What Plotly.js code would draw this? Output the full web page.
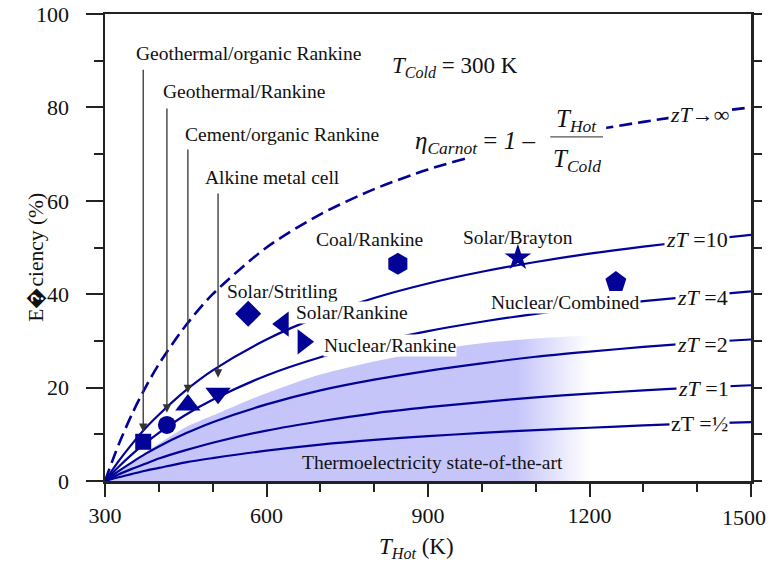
<!DOCTYPE html>
<html>
<head>
<meta charset="utf-8">
<script src="https://cdn.plot.ly/plotly-3.0.1.min.js"></script>
<style>html,body{margin:0;padding:0;background:#fff;}#chart{width:771px;height:566px;}</style>
</head>
<body>
<div id="chart"></div>
<script>
// Hot-side temperature grid (K) at which the curves were read
const tHot = [300,325,350,375,400,450,500,600,700,800,900,1000,1100,1200,1300,1400,1500];
// Efficiency curves (%)
const etaCarnot = [0,7.7,14.3,20,25,33.3,40,50,57.1,62.5,66.7,70,72.7,75,76.9,78.6,80];
const etaZT10  = [0,4.2,7.9,11.3,14.2,19.4,23.7,30.3,35.3,39.2,42.3,44.8,46.9,48.7,50.2,51.5,52.7];
const etaZT4   = [0,3.0,5.7,8.1,10.3,14.2,17.4,22.6,26.5,29.6,32.1,34.1,35.8,37.3,38.5,39.6,40.6];
const etaZT2   = [0,2.1,4.0,5.8,7.4,10.2,12.6,16.4,19.4,21.7,23.6,25.2,26.6,27.7,28.7,29.6,30.3];
const etaZT1   = [0,1.4,2.6,3.7,4.8,6.6,8.2,10.8,12.8,14.5,15.8,16.9,17.9,18.7,19.4,20.0,20.5];
const etaZTHalf= [0,0.8,1.5,2.2,2.8,4.0,4.9,6.5,7.8,8.8,9.6,10.3,10.9,11.4,11.9,12.3,12.6];

// Thermoelectric state-of-the-art band (upper edge)
const bandT   = [300,350,400,450,500,550,600,700,800,900,1000,1100,1200];
const bandTop = [0,4.2,8,11.5,14,16.5,18.8,22.8,25.6,27.8,29.5,30.5,31.2];

// Axis tick labels (the last one is drawn as an annotation so it stays inside the page)
const xTickVals = [300,600,900,1200,1500];
const xTickText = ['300','600','900','1200',''];
const xLastTickLabel = '1500';

// Heat-engine processes
const procNames = ['Geothermal/organic Rankine','Geothermal/Rankine','Cement/organic Rankine','Alkine metal cell',
                   'Solar/Stritling','Solar/Rankine','Nuclear/Rankine','Coal/Rankine','Solar/Brayton','Nuclear/Combined'];
const procT   = [371,415,454,510,566,631,668,844,1067,1249];
const procEta = [8.4,12.0,16.3,18.8,35.8,33.6,29.8,46.5,47.8,42.6];
const procSym = ['square','circle','triangle-up','triangle-down','diamond','triangle-left','triangle-right','hexagon','star','pentagon'];
const procSize= [16,18,22,22,20,22,22,22,20,22];

// Label positions (data coords)
const procLabelX = [567,558,629,612,629,759,829,792,1067,1156];
const procLabelY = [91.6,83.3,74.3,64.9,40.5,36.0,29.1,51.8,52.2,38.3];
const procLabelBg = [false,false,false,false,false,true,true,false,false,true];
// arrows (first four processes)
const arrowTip  = [10.5,14.6,18.8,22.1];
const arrowTail = [88.4,80.1,71.3,61.9];

const curveLabels = ['<i>zT</i>\u2192\u221E','<i>zT</i> =10','<i>zT</i> =4','<i>zT</i> =2','<i>zT</i> =1','zT =\u00BD'];
const curveLabelX = [1405,1400,1409,1409,1411,1405];
const curveLabelY = [78.4,51.8,39.4,29.3,19.9,12.4];

const BLUE = '#020296';
const FONT = 'Liberation Serif, Times New Roman, serif';

const traces = [];
traces.push({
  x: bandT, y: bandTop, mode: 'lines', fill: 'tozeroy', line: {width: 0, shape: 'spline', smoothing: 0.8},
  fillgradient: {type: 'horizontal', start: 300, stop: 1200,
    colorscale: [[0,'rgba(197,197,250,1)'],[0.85,'rgba(197,197,250,1)'],[1,'rgba(197,197,250,0)']]},
  hoverinfo: 'skip', showlegend: false
});
[etaZT10, etaZT4, etaZT2, etaZT1, etaZTHalf].forEach(function (ys) {
  traces.push({x: tHot, y: ys, mode: 'lines', line: {color: BLUE, width: 2.2, shape: 'spline', smoothing: 0.8}, showlegend: false});
});
traces.push({x: tHot, y: etaCarnot, mode: 'lines', line: {color: BLUE, width: 2.6, dash: '13px,6px', shape: 'spline', smoothing: 0.8}, showlegend: false});
traces.push({x: procT, y: procEta, mode: 'markers', marker: {symbol: procSym, size: procSize, color: BLUE, opacity: 1, line: {width: 0}}, showlegend: false});
traces.push({x: [null], y: [null], yaxis: 'y2', mode: 'markers', showlegend: false, hoverinfo: 'skip'});

const ann = [];
procNames.forEach(function (n, i) {
  const a = {x: procLabelX[i], y: procLabelY[i], xref: 'x', yref: 'y', text: n, showarrow: false,
             font: {family: FONT, size: 19.5, color: '#111'}};
  if (procLabelBg[i]) { a.bgcolor = '#fff'; a.borderpad = 0; }
  ann.push(a);
});
arrowTip.forEach(function (tip, i) {
  ann.push({x: procT[i], y: tip, ax: procT[i], ay: arrowTail[i], xref: 'x', yref: 'y', axref: 'x', ayref: 'y',
            text: '', showarrow: true, arrowhead: 2, arrowsize: 1.3, arrowwidth: 1.3, arrowcolor: '#333'});
});
curveLabels.forEach(function (t, i) {
  ann.push({x: curveLabelX[i], y: curveLabelY[i], xref: 'x', yref: 'y', text: t, showarrow: false,
            bgcolor: '#fff', borderpad: 1, font: {family: FONT, size: 22, color: '#111'}});
});
ann.push({x: 909, y: 3.9, xref: 'x', yref: 'y', text: 'Thermoelectricity state-of-the-art', showarrow: false,
          font: {family: FONT, size: 19.5, color: '#111'}});
ann.push({x: 950, y: 88.7, xref: 'x', yref: 'y', text: '<i>T</i><sub><i>Cold</i></sub> = 300 K', showarrow: false,
          font: {family: FONT, size: 23, color: '#111'}});
ann.push({x: 987, y: 72.5, xref: 'x', yref: 'y', text: '<i>\u03B7</i><sub><i>Carnot</i></sub> = <i>1</i> \u2013', showarrow: false,
          font: {family: FONT, size: 25, color: '#111'}});
ann.push({x: 1175, y: 77.1, xref: 'x', yref: 'y', text: '<i>T</i><sub><i>Hot</i></sub>', showarrow: false,
          font: {family: FONT, size: 25, color: '#111'}});
ann.push({x: 1177, y: 68.7, xref: 'x', yref: 'y', text: '<i>T</i><sub><i>Cold</i></sub>', showarrow: false,
          font: {family: FONT, size: 25, color: '#111'}});
// last x tick label
ann.push({x: 0.989, y: -0.079, xref: 'paper', yref: 'paper', xanchor: 'center', yanchor: 'middle',
          text: xLastTickLabel, showarrow: false, font: {family: FONT, size: 22, color: '#111'}});
// axis titles
ann.push({x: -0.107, y: 0.48, xref: 'paper', yref: 'paper', xanchor: 'center', yanchor: 'middle',
          text: 'E\uFFFDciency (%)', textangle: -90, showarrow: false,
          font: {family: FONT, size: 21.5, color: '#111'}});
ann.push({x: 0.482, y: -0.143, xref: 'paper', yref: 'paper', xanchor: 'center', yanchor: 'middle',
          text: '<i>T</i><sub><i>Hot</i></sub> (K)', showarrow: false,
          font: {family: FONT, size: 23, color: '#111'}});

const shapes = [
  {type: 'rect', xref: 'x', yref: 'y', x0: 974, x1: 1231, y0: 65.5, y1: 81.6, fillcolor: '#fff', line: {width: 0}, layer: 'above'},
  {type: 'line', xref: 'x', yref: 'y', x0: 1127, x1: 1225, y0: 73.7, y1: 73.7, line: {color: '#555', width: 1.3}, layer: 'above'}
];

const axisFont = {family: FONT, size: 22, color: '#111'};
const layout = {
  width: 771, height: 566,
  margin: {l: 105, r: 20, t: 14, b: 85},
  paper_bgcolor: '#fff', plot_bgcolor: '#fff',
  showlegend: false,
  font: {family: FONT},
  xaxis: {range: [300, 1500], tickmode: 'array', tickvals: xTickVals, ticktext: xTickText,
          ticks: 'outside', ticklen: 13, tickwidth: 2, tickcolor: '#222',
          minor: {dtick: 100, tick0: 300, ticks: 'outside', ticklen: 8, tickwidth: 2, tickcolor: '#222', showgrid: false},
          showline: true, linewidth: 2.5, linecolor: '#222', mirror: true, showgrid: false, zeroline: false,
          tickfont: axisFont},
  yaxis: {range: [0, 100], dtick: 20, ticks: 'outside', ticklen: 17, tickwidth: 2, tickcolor: '#222',
          minor: {dtick: 10, ticks: 'outside', ticklen: 9, tickwidth: 2, tickcolor: '#222', showgrid: false},
          showline: true, linewidth: 2.5, linecolor: '#222', mirror: true, showgrid: false, zeroline: false,
          ticklabelstandoff: 12, tickfont: axisFont},
  yaxis2: {overlaying: 'y', side: 'right', range: [0, 100], dtick: 10, ticks: 'outside', ticklen: 10, tickwidth: 2,
           tickcolor: '#222', showticklabels: false, showgrid: false, zeroline: false, showline: false},
  annotations: ann,
  shapes: shapes
};

Plotly.newPlot('chart', traces, layout, {staticPlot: true, displayModeBar: false});
</script>
</body>
</html>
